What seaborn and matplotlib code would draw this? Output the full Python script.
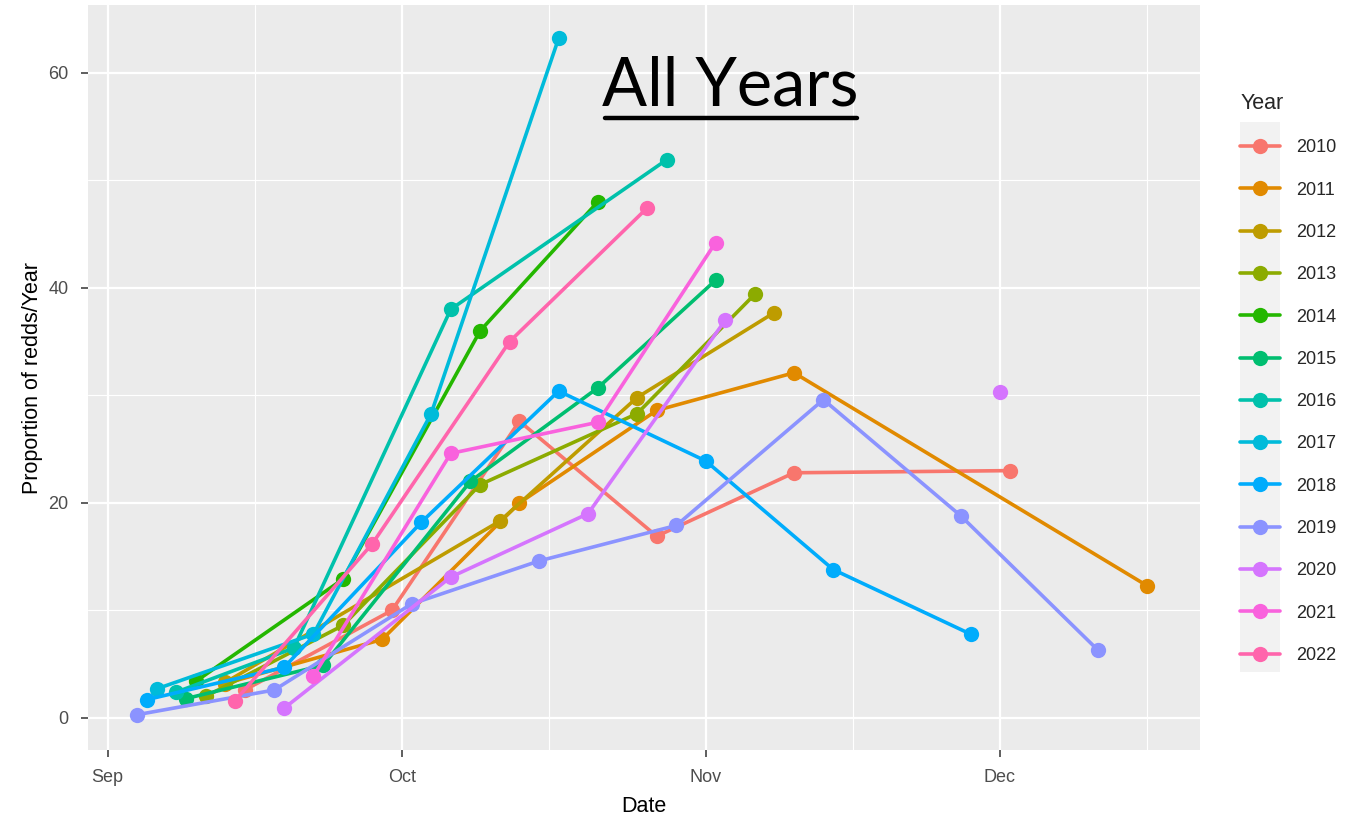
import pandas as pd
import numpy as np
import matplotlib
matplotlib.use("Agg")
import matplotlib.pyplot as plt
import matplotlib.dates as mdates
from matplotlib.patches import Rectangle
from matplotlib.lines import Line2D
import seaborn as sns

# Survey dates (month-day) and proportion of redds counted per year
years = ["2010", "2011", "2012", "2013", "2014", "2015", "2016",
         "2017", "2018", "2019", "2020", "2021", "2022"]

dates_2010 = ["09-15", "09-30", "10-13", "10-27", "11-10", "12-02"]
props_2010 = [2.6, 10.0, 27.6, 16.9, 22.8, 23.0]

dates_2011 = ["09-13", "09-29", "10-13", "10-27", "11-10", "12-16"]
props_2011 = [3.2, 7.3, 20.0, 28.6, 32.1, 12.3]

dates_2012 = ["09-13", "10-11", "10-25", "11-08"]
props_2012 = [3.3, 18.3, 29.8, 37.7]

dates_2013 = ["09-11", "09-25", "10-09", "10-25", "11-06"]
props_2013 = [2.0, 8.6, 21.7, 28.3, 39.4]

dates_2014 = ["09-10", "09-25", "10-09", "10-21"]
props_2014 = [3.4, 12.9, 36.0, 48.0]

dates_2015 = ["09-09", "09-23", "10-08", "10-21", "11-02"]
props_2015 = [1.8, 4.9, 22.0, 30.7, 40.7]

dates_2016 = ["09-08", "09-20", "10-06", "10-28"]
props_2016 = [2.4, 6.5, 38.0, 51.9]

dates_2017 = ["09-06", "09-22", "10-04", "10-17"]
props_2017 = [2.7, 7.8, 28.3, 63.2]

dates_2018 = ["09-05", "09-19", "10-03", "10-17", "11-01", "11-14", "11-28"]
props_2018 = [1.7, 4.7, 18.2, 30.4, 23.9, 13.8, 7.8]

dates_2019 = ["09-04", "09-18", "10-02", "10-15", "10-29", "11-13", "11-27", "12-11"]
props_2019 = [0.3, 2.6, 10.6, 14.6, 17.9, 29.6, 18.8, 6.3]

dates_2020 = ["09-19", "10-06", "10-20", "11-03", "12-01"]
props_2020 = [0.9, 13.1, 19.0, 37.0, 30.3]
# the last 2020 count stands alone (a missed survey before it)
segs_2020 = [0, 0, 0, 0, 1]

dates_2021 = ["09-22", "10-06", "10-21", "11-02"]
props_2021 = [3.9, 24.6, 27.5, 44.2]

dates_2022 = ["09-14", "09-28", "10-12", "10-26"]
props_2022 = [1.6, 16.2, 35.0, 47.4]

palette = ["#F8766D", "#E18A00", "#BE9C00", "#8CAB00", "#24B700", "#00BE70",
           "#00C1AB", "#00BBDA", "#00ACFC", "#8B93FF", "#D575FE", "#F962DD",
           "#FF65AC"]

series = {
    "2010": (dates_2010, props_2010, None),
    "2011": (dates_2011, props_2011, None),
    "2012": (dates_2012, props_2012, None),
    "2013": (dates_2013, props_2013, None),
    "2014": (dates_2014, props_2014, None),
    "2015": (dates_2015, props_2015, None),
    "2016": (dates_2016, props_2016, None),
    "2017": (dates_2017, props_2017, None),
    "2018": (dates_2018, props_2018, None),
    "2019": (dates_2019, props_2019, None),
    "2020": (dates_2020, props_2020, segs_2020),
    "2021": (dates_2021, props_2021, None),
    "2022": (dates_2022, props_2022, None),
}

rows = []
for yr, (ds, ps, segs) in series.items():
    if segs is None:
        segs = [0] * len(ds)
    for d, p, s in zip(ds, ps, segs):
        rows.append({"Date": pd.Timestamp("2021-" + d), "Prop": p,
                     "Year": yr, "Seg": f"{yr}-{s}"})
df = pd.DataFrame(rows)

sns.set_theme(style="darkgrid")
plt.rcParams["font.family"] = ["Liberation Sans", "DejaVu Sans"]

fig = plt.figure(figsize=(13.54, 8.19), dpi=100)
W, H = 1354, 819
ax = fig.add_axes([88 / W, 1 - 750 / H, (1200 - 88) / W, (750 - 5) / H])
ax.set_facecolor("#EBEBEB")

sns.lineplot(data=df, x="Date", y="Prop", hue="Year", units="Seg",
             estimator=None, hue_order=years, palette=palette,
             marker="o", markersize=11, markeredgewidth=0,
             linewidth=2.6, ax=ax, sort=True)

sep1 = pd.Timestamp("2021-09-01")
ax.set_xlim(sep1 - pd.Timedelta(days=1.99), sep1 + pd.Timedelta(days=111.4))
ax.set_ylim(-2.98, 66.3)

ax.xaxis.set_major_locator(mdates.MonthLocator())
ax.xaxis.set_major_formatter(mdates.DateFormatter("%b"))
ax.xaxis.set_minor_locator(mdates.MonthLocator(bymonthday=16))
ax.set_yticks([0, 20, 40, 60])
ax.set_yticks([10, 30, 50], minor=True)

ax.grid(which="major", color="white", linewidth=1.6)
ax.grid(which="minor", color="white", linewidth=0.8)
ax.set_axisbelow(True)
for sp in ax.spines.values():
    sp.set_visible(False)

ax.tick_params(axis="both", which="major", length=5, width=1.1,
               color="#333333", labelcolor="#4D4D4D", labelsize=13)
ax.tick_params(axis="x", which="major", pad=9)
ax.tick_params(axis="y", which="major", pad=9)
ax.tick_params(axis="both", which="minor", length=0)
ax.tick_params(axis="x", bottom=True)
ax.tick_params(axis="y", left=True)

ax.set_xlabel("Date", fontsize=15.5, color="black", labelpad=7)
ax.set_ylabel("Proportion of redds/Year", fontsize=15.5, color="black", labelpad=4)

# Legend with grey key column
handles, labels = ax.get_legend_handles_labels()
ax.get_legend().remove()
fig.add_artist(Rectangle((1240 / W, 1 - 672 / H), 40 / W, 550 / H,
                         transform=fig.transFigure, facecolor="#F2F2F2",
                         edgecolor="none", zorder=0))
leg = fig.legend(handles, labels, title="Year", loc="upper left",
                 bbox_to_anchor=(1233 / W, 1 - 86 / H), frameon=False,
                 fontsize=13, title_fontsize=15.5, handlelength=2.2,
                 handletextpad=0.9, labelspacing=1.4, borderaxespad=0)
leg._legend_box.align = "left"
for h in leg.legend_handles:
    h.set_linewidth(2.6)
    h.set_markersize(11)

# Title
fig.text(730 / W, 1 - 86 / H, "All Years", fontsize=48, ha="center",
         va="center", family=["Lato", "DejaVu Sans"], color="black")
fig.add_artist(Line2D([605 / W, 857 / W], [1 - 118 / H, 1 - 118 / H],
                      transform=fig.transFigure, color="black", linewidth=3.2))

fig.savefig("out.png", dpi=100, facecolor="white")
